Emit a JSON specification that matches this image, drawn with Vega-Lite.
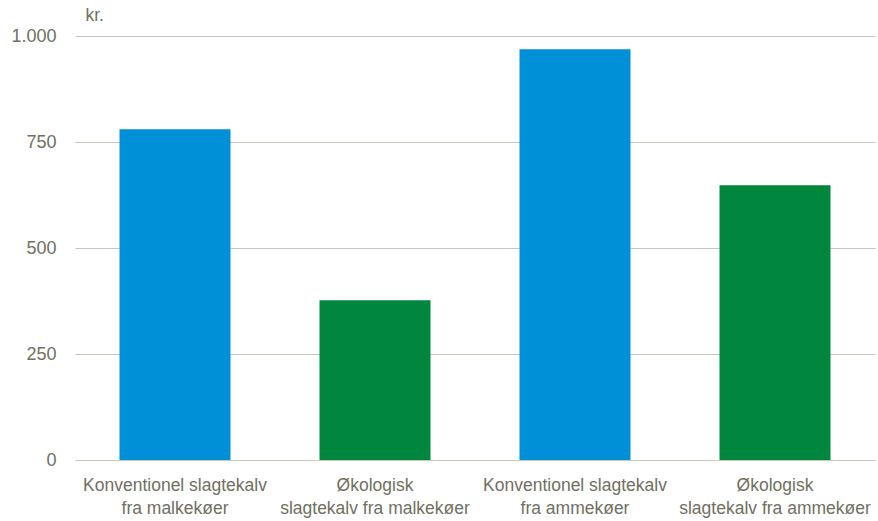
{
  "$schema": "https://vega.github.io/schema/vega-lite/v6.json",
  "width": 800,
  "height": 424,
  "autosize": {"type": "none"},
  "padding": {"left": 75, "top": 36, "right": 3, "bottom": 61},
  "background": "white",
  "config": {"view": {"stroke": null}, "font": "Liberation Sans"},
  "data": {
    "values": [
      {"label": "Konventionel slagtekalv\nfra malkekøer", "type": "Konventionel", "value": 780},
      {"label": "Økologisk\nslagtekalv fra malkekøer", "type": "Økologisk", "value": 377},
      {"label": "Konventionel slagtekalv\nfra ammekøer", "type": "Konventionel", "value": 969},
      {"label": "Økologisk\nslagtekalv fra ammekøer", "type": "Økologisk", "value": 648}
    ]
  },
  "mark": {"type": "bar"},
  "encoding": {
    "x": {
      "field": "label",
      "type": "nominal",
      "sort": null,
      "scale": {"paddingInner": 0.445, "paddingOuter": 0.2225},
      "axis": {
        "title": null,
        "labelAngle": 0,
        "labelExpr": "split(datum.label, '\\n')",
        "labelFont": "Liberation Sans",
        "labelFontSize": 17.5,
        "labelLimit": 400,
        "labelOverlap": false,
        "labelColor": "#706f60",
        "labelLineHeight": 23,
        "labelPadding": 16,
        "domain": true,
        "domainColor": "#c8c4b8",
        "domainWidth": 1,
        "ticks": false
      }
    },
    "y": {
      "field": "value",
      "type": "quantitative",
      "scale": {"domain": [0, 1000]},
      "axis": {
        "values": [0, 250, 500, 750, 1000],
        "labelExpr": "replace(format(datum.value, ','), ',', '.')",
        "labelFont": "Liberation Sans",
        "labelFontSize": 18,
        "labelColor": "#706f60",
        "labelPadding": 19,
        "domain": false,
        "ticks": false,
        "grid": true,
        "gridColor": "#c8c4b8",
        "gridWidth": 1,
        "title": "kr.",
        "titleAngle": 0,
        "titleX": 10,
        "titleY": -16,
        "titleAlign": "left",
        "titleBaseline": "alphabetic",
        "titleFont": "Liberation Sans",
        "titleFontSize": 17.5,
        "titleFontWeight": "normal",
        "titleColor": "#706f60"
      }
    },
    "color": {
      "field": "type",
      "type": "nominal",
      "scale": {"domain": ["Konventionel", "Økologisk"], "range": ["#0090d7", "#00873d"]},
      "legend": null
    }
  }
}
